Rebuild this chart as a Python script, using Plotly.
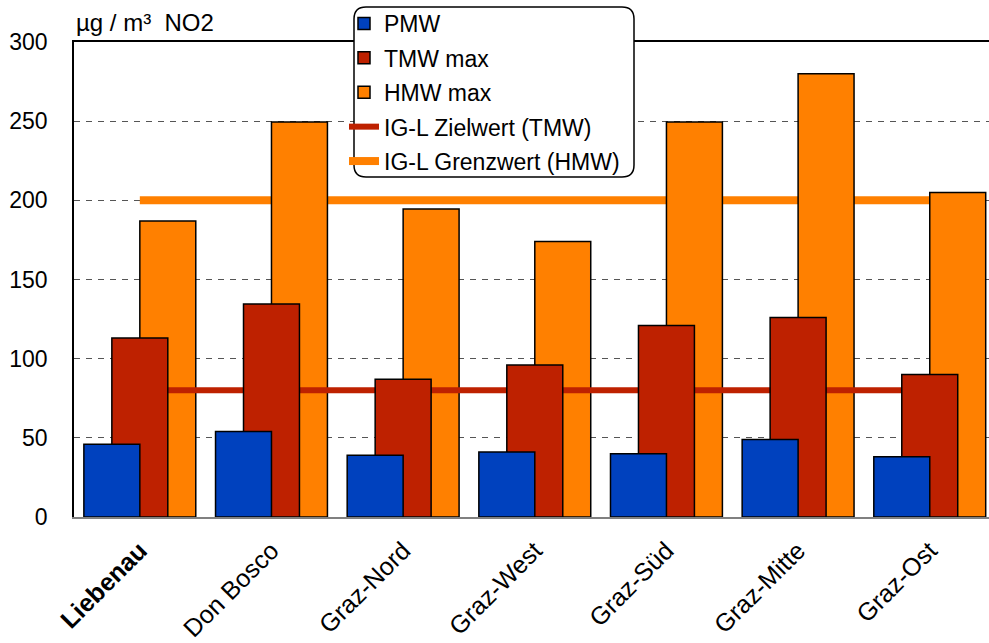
import plotly.graph_objects as go

# ---------------- data ----------------
stations = ["Liebenau", "Don Bosco", "Graz-Nord", "Graz-West", "Graz-Süd", "Graz-Mitte", "Graz-Ost"]
tick_labels = ["<b>Liebenau</b>", "Don Bosco", "Graz-Nord", "Graz-West", "Graz-Süd", "Graz-Mitte", "Graz-Ost"]
pmw = [46, 54, 39, 41, 40, 49, 38]
tmw_max = [113, 134.5, 87, 96, 121, 126, 90]
hmw_max = [187, 249.5, 194.5, 174, 249.5, 280, 205]
zielwert_tmw = [80, 80, 80, 80, 80, 80, 80]
grenzwert_hmw = [200, 200, 200, 200, 200, 200, 200]
y_ticks = [0, 50, 100, 150, 200, 250, 300]

# ---------------- style ----------------
C_PMW = "#0041BE"
C_TMW = "#BE2100"
C_HMW = "#FF8000"
FONT = "Arial, Liberation Sans, sans-serif"
W, H = 989, 643
ML, MR, MT, MB = 74, 0, 42, 126
PW, PH = W - ML - MR, H - MT - MB
XR = [-0.5, 6.45]
BW = 0.425

fig = go.Figure()

# layer 1 (bottom): Grenzwert line
fig.add_trace(go.Scatter(x=stations, y=grenzwert_hmw, mode="lines", name="IG-L Grenzwert (HMW)",
                         line=dict(color=C_HMW, width=8), xaxis="x", yaxis="y",
                         legendrank=5, legendgroup="g5"))
# layer 2: HMW bars + Zielwert line
fig.add_trace(go.Bar(x=stations, y=hmw_max, name="HMW max", marker=dict(color=C_HMW, line=dict(color="black", width=1.5)),
                     width=BW, offset=0, xaxis="x2", yaxis="y2", legendrank=3, legendgroup="g3"))
fig.add_trace(go.Scatter(x=stations, y=zielwert_tmw, mode="lines", name="IG-L Zielwert (TMW)",
                         line=dict(color=C_TMW, width=6), xaxis="x2", yaxis="y2",
                         legendrank=4, legendgroup="g4"))
# layer 3 (top): TMW + PMW bars
fig.add_trace(go.Bar(x=stations, y=tmw_max, name="TMW max", marker=dict(color=C_TMW, line=dict(color="black", width=1.5)),
                     width=BW, offset=-BW / 2, xaxis="x3", yaxis="y3", legendrank=2, legendgroup="g2"))
fig.add_trace(go.Bar(x=stations, y=pmw, name="PMW", marker=dict(color=C_PMW, line=dict(color="black", width=1.5)),
                     width=BW, offset=-BW, xaxis="x3", yaxis="y3", legendrank=1, legendgroup="g1"))

hidden_x = dict(range=XR, visible=False, overlaying="x", categoryorder="array", categoryarray=stations)
hidden_y = dict(range=[0, 300], visible=False, overlaying="y")

# rounded legend box (pixel -> paper)
def px(x):
    return (x - ML) / PW

def py(y):
    return (MT + PH - y) / PH

L, R, T, B, r = 354, 634, 7, 177, 12
path = (f"M {px(L + r)},{py(T)} L {px(R - r)},{py(T)} Q {px(R)},{py(T)} {px(R)},{py(T + r)} "
        f"L {px(R)},{py(B - r)} Q {px(R)},{py(B)} {px(R - r)},{py(B)} "
        f"L {px(L + r)},{py(B)} Q {px(L)},{py(B)} {px(L)},{py(B - r)} "
        f"L {px(L)},{py(T + r)} Q {px(L)},{py(T)} {px(L + r)},{py(T)} Z")

fig.update_layout(
    width=W, height=H,
    margin=dict(l=ML, r=MR, t=MT, b=MB, pad=0, autoexpand=False),
    paper_bgcolor="white", plot_bgcolor="white",
    font=dict(family=FONT, color="black"),
    barmode="overlay",
    showlegend=True,
    legend=dict(x=px(344), y=py(2), xanchor="left", yanchor="top",
                bgcolor="rgba(0,0,0,0)", borderwidth=0,
                font=dict(size=23, family=FONT), tracegroupgap=1.5,
                traceorder="grouped", itemwidth=30),
    xaxis=dict(range=XR, categoryorder="array", categoryarray=stations,
               tickmode="array", tickvals=stations, ticktext=tick_labels,
               tickangle=-45, tickfont=dict(size=25, family=FONT),
               showgrid=False, showline=True, linecolor="#808080", linewidth=2,
               ticks="", ticklabelstandoff=7, zeroline=False, automargin=False),
    yaxis=dict(range=[0, 300], tickvals=y_ticks, tickfont=dict(size=23, family=FONT),
               showgrid=True, gridcolor="#555555", griddash="6px,6px", gridwidth=1,
               showline=True, linecolor="black", linewidth=1.5, ticks="",
               ticklabelstandoff=20, zeroline=False, automargin=False),
    xaxis2=dict(hidden_x, visible=True, side="top", showline=True, linecolor="black", linewidth=1.5,
                showticklabels=False, ticks="", showgrid=False, automargin=False),
    yaxis2=hidden_y,
    xaxis3=hidden_x,
    yaxis3=hidden_y,
    shapes=[dict(type="path", path=path, xref="paper", yref="paper", layer="above",
                 fillcolor="white", line=dict(color="black", width=1.5))],
    annotations=[dict(text="µg / m³  NO2", x=0, y=py(22), xref="paper", yref="paper",
                      xanchor="left", yanchor="middle", showarrow=False,
                      font=dict(size=24, family=FONT))],
)

fig.write_html("out.html")
